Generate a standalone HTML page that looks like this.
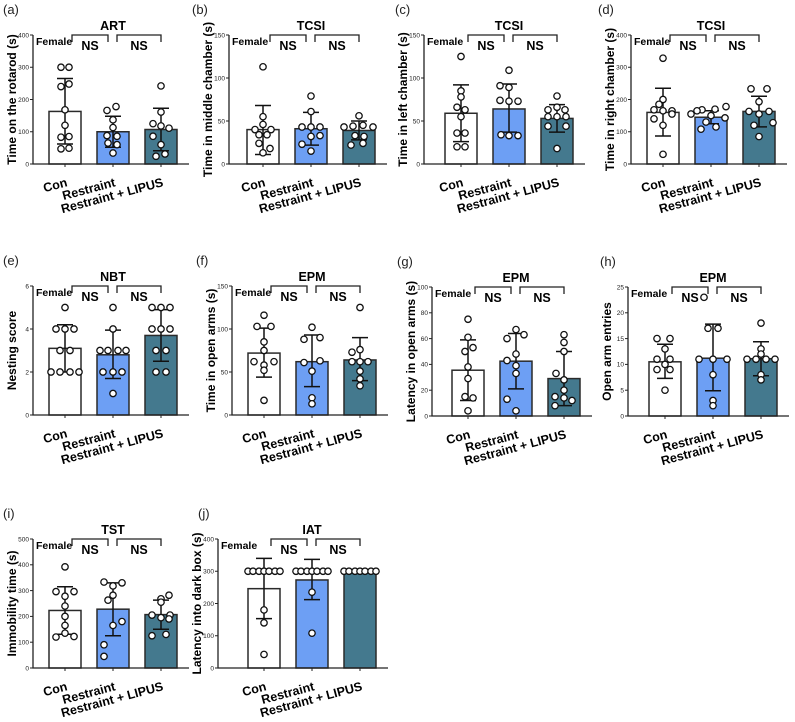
<!DOCTYPE html>
<html><head><meta charset="utf-8"><style>
html,body{margin:0;padding:0;background:#fff;}
svg{display:block;font-family:"Liberation Sans",Arial,sans-serif;}
</style></head><body>
<svg id="fig" width="795" height="722" viewBox="0 0 795 722" xmlns="http://www.w3.org/2000/svg"></svg>
<script>
const groups=["Con","Restraint","Restraint + LIPUS"];
const aMeans=[163,100,107],aUp=[265,148,173],aLo=[62,52,41];
const aPts=[[[300,-4],[300,4],[240,-4],[248,4],[168,0],[120,0],[83,-4],[85,4],[47,-4],[49,4]],[[166,-6],[178,3],[137,0],[113,0],[88,-6],[86,4],[65,-5],[60,4],[34,0]],[[242,0],[161,0],[125,-8],[118,0],[111,8],[86,-8],[60,0],[24,-5],[31,4]]];
const bMeans=[40,41,39],bUp=[68,60,50],bLo=[11,22,28];
const bPts=[[[113,0],[55,0],[46,0],[40,-8],[40,8],[34,-4],[34,4],[24,-4],[18,7],[13,0]],[[79,0],[61,0],[43,-9],[43,0],[43,9],[33,9],[32,0],[23,-9],[15,0]],[[56,0],[43,-15],[44,-6],[45,4],[43,14],[33,-4],[32,5],[22,-8],[24,4]]];
const cMeans=[59,64,53],cUp=[92,93,69],cLo=[26,37,37];
const cPts=[[[125,0],[85,0],[78,0],[66,-4],[63,4],[55,0],[36,-4],[36,4],[20,-4],[20,4]],[[109,0],[91,-9],[89,0],[74,-9],[73,0],[73,9],[34,-8],[33,0],[33,9]],[[79,0],[63,-9],[66,0],[63,8],[55,-9],[55,0],[55,9],[44,-9],[44,9],[18,0]]];
const dMeans=[160,145,163],dUp=[235,165,210],dLo=[87,125,115];
const dPts=[[[328,0],[200,0],[185,-4],[168,-9],[165,0],[165,9],[140,-9],[120,0],[30,0],[155,9]],[[178,15],[170,4],[168,-9],[165,-14],[155,-20],[150,0],[143,14],[130,-5],[108,-10],[115,5]],[[233,-8],[233,8],[193,0],[163,-10],[163,10],[155,0],[128,14],[120,-5],[85,0]]];
const eMeans=[3.1,2.8,3.7],eUp=[4.2,3.95,4.9],eLo=[2.0,1.7,2.5];
const ePts=[[[5,0],[4,-9],[4,0],[4,9],[3,-5],[3,5],[2,-14],[2,-5],[2,5],[2,14]],[[5,0],[4,0],[3,-13],[3,-5],[3,5],[3,13],[2,-10],[2,0],[2,9],[1,0]],[[5,-9],[5,0],[5,9],[4,-9],[4,0],[4,9],[3,-5],[3,5],[2,-5],[2,5]]];
const fMeans=[72,62,64],fUp=[101,93,90],fLo=[44,33,40];
const fPts=[[[116,0],[103,-7],[103,7],[85,0],[75,0],[62,-10],[62,10],[58,0],[52,0],[17,0]],[[102,0],[88,-8],[90,8],[61,-8],[63,8],[51,0],[20,0],[13,0]],[[125,0],[76,0],[73,-8],[62,-8],[62,0],[62,8],[51,0],[42,0],[34,0]]];
const gMeans=[35.5,42.5,29],gUp=[59,64,50],gLo=[12,21,8];
const gPts=[[[75,0],[61,0],[50,-3],[53,5],[38,0],[29,0],[15,-3],[14,5],[4,0]],[[67,0],[60,-9],[63,8],[48,0],[43,-9],[39,0],[33,0],[13,-9],[4,0]],[[63,0],[57,0],[50,0],[33,-8],[28,0],[20,0],[14,0],[15,-9],[8,-9],[12,8]]];
const hMeans=[10.5,11.2,11.1],hUp=[13.9,17.8,14.4],hLo=[7.3,4.9,7.8];
const hPts=[[[15,-8],[15,5],[13,0],[11,-8],[11,5],[10,0],[9,-8],[9,5],[5,0]],[[23,-9],[17,-5],[17,5],[11,-14],[11,0],[11,14],[8,0],[3,0],[2,0]],[[18,0],[13,0],[12,0],[11,-14],[11,-5],[11,5],[11,14],[8,0],[7,0]]];
const iMeans=[223,228,207],iUp=[315,330,263],iLo=[131,125,150];
const iPts=[[[392,0],[296,-9],[296,9],[278,0],[240,0],[200,0],[165,0],[135,0],[120,-9],[122,9]],[[333,-9],[330,9],[318,0],[282,0],[263,-5],[180,9],[165,0],[90,-9],[45,-9]],[[282,8],[268,0],[255,0],[205,-9],[205,9],[195,0],[190,8],[125,-9],[130,5]]];
const jMeans=[246,273,300],jUp=[340,337,300],jLo=[153,212,300];
const jPts=[[[300,-16],[300,-11],[300,-5],[300,0],[300,5],[300,11],[300,16],[180,0],[140,0],[42,0]],[[300,-16],[300,-11],[300,-5],[300,0],[300,5],[300,11],[300,16],[235,0],[108,0]],[[300,-16],[300,-11],[300,-5],[300,0],[300,5],[300,11],[300,16]]];
const panels=[
 {k:"a",lx:3,ax:33,b0:49,top:35,max:400,step:100,t:"ART",yt:"Time on the rotarod (s)",m:aMeans,u:aUp,l:aLo,p:aPts},
 {k:"b",lx:192,ax:229,b0:247,top:35,max:150,step:50,t:"TCSI",yt:"Time in middle chamber (s)",m:bMeans,u:bUp,l:bLo,p:bPts},
 {k:"c",lx:395,ax:424,b0:445,top:35,max:150,step:50,t:"TCSI",yt:"Time in left chamber (s)",m:cMeans,u:cUp,l:cLo,p:cPts},
 {k:"d",lx:598,ax:631,b0:647,top:35,max:400,step:100,t:"TCSI",yt:"Time in right chamber (s)",m:dMeans,u:dUp,l:dLo,p:dPts},
 {k:"e",lx:3,ax:33,b0:49,top:286,max:6,step:2,t:"NBT",yt:"Nesting score",m:eMeans,u:eUp,l:eLo,p:ePts},
 {k:"f",lx:196,ax:232,b0:248,top:286,max:150,step:50,t:"EPM",yt:"Time in open arms (s)",m:fMeans,u:fUp,l:fLo,p:fPts},
 {k:"g",lx:397,ax:432,b0:452,top:287,max:100,step:20,t:"EPM",yt:"Latency in open arms (s)",m:gMeans,u:gUp,l:gLo,p:gPts},
 {k:"h",lx:600,ax:628,b0:649,top:287,max:25,step:5,t:"EPM",yt:"Open arm entries",m:hMeans,u:hUp,l:hLo,p:hPts},
 {k:"i",lx:3,ax:33,b0:49,top:539,max:500,step:100,t:"TST",yt:"Immobility time (s)",m:iMeans,u:iUp,l:iLo,p:iPts},
 {k:"j",lx:198,ax:218,b0:248,top:539,max:400,step:100,t:"IAT",yt:"Latency into dark box (s)",m:jMeans,u:jUp,l:jLo,p:jPts}
];
const fills=["#ffffff","#6d9ff4","#44798e"];
const NS="http://www.w3.org/2000/svg";
const svg=document.getElementById("fig");
function mk(tag,attrs,parent,txt){const e=document.createElementNS(NS,tag);for(const k in attrs)e.setAttribute(k,attrs[k]);if(txt!==undefined)e.textContent=txt;(parent||svg).appendChild(e);return e;}
const H=129,BW=32,PITCH=48;
panels.forEach(P=>{
  const g=mk("g",{});
  
  
  const y=v=>P.top+H-(v/P.max)*H;
  const cx=i=>P.b0+i*PITCH+BW/2;
  const zero=P.top+H;
  const lt=mk("text",{x:P.lx,y:P.top-21,"font-size":13,fill:"#222"},g,"("+P.k+")");
  
  
  const tt=mk("text",{x:cx(1),y:P.top-5,"font-size":12.5,"font-weight":"bold","text-anchor":"middle"},g,P.t);
  
  
  const ytl=mk("text",{x:0,y:0,"font-size":12,"font-weight":"bold","text-anchor":"middle",transform:`translate(${P.ax-17},${P.top+H/2}) rotate(-90)`},g,P.yt);
  
  
  P.m.forEach((v,i)=>{
    const r=mk("rect",{x:P.b0+i*PITCH,y:y(v),width:BW,height:zero-y(v),fill:fills[i],stroke:"#2a2a2a","stroke-width":1.5},g);
    
    
  });
  P.m.forEach((v,i)=>{
    const c=cx(i);
    const eb=mk("path",{d:`M${c},${y(P.u[i])}V${y(P.l[i])}M${c-8},${y(P.u[i])}H${c+8}M${c-8},${y(P.l[i])}H${c+8}`,stroke:"#111","stroke-width":1.5,fill:"none"},g);
    
    
  });
  P.p.forEach((arr,i)=>{arr.forEach(pt=>{
    const d=mk("circle",{cx:cx(i)+pt[1],cy:y(pt[0]),r:3.2,fill:"#fff",stroke:"#111","stroke-width":1.3},g);
    
    
  });});
  const axEnd=P.b0+2*PITCH+BW+12;
  const ax=mk("path",{d:`M${P.ax},${P.top}V${zero}H${axEnd}`,stroke:"#222","stroke-width":1.3,fill:"none"},g);
  
  
  for(let v=0;v<=P.max+1e-9;v+=P.step){
    mk("line",{x1:P.ax-3,x2:P.ax,y1:y(v),y2:y(v),stroke:"#222","stroke-width":1},g);
    const tl=mk("text",{x:P.ax-4,y:y(v)+2.3,"font-size":6.5,"text-anchor":"end",fill:"#222"},g,String(v));
    
    
  }
  for(let i=0;i<3;i++){
    mk("line",{x1:cx(i),x2:cx(i),y1:zero,y2:zero+3,stroke:"#222","stroke-width":1},g);
    const xl=mk("text",{x:0,y:0,"font-size":12.5,"font-weight":"bold","text-anchor":"end",transform:`translate(${cx(i)+3},${zero+22}) rotate(-15)`},g,groups[i]);
    
    
  }
  const f=mk("text",{x:P.ax+3,y:P.top+10,"font-size":10.5,"font-weight":"bold"},g,"Female");
  
  
  const br=[[cx(0)+7,cx(1)-5],[cx(1)+4,cx(2)]];
  br.forEach(b=>{
    const bl=mk("path",{d:`M${b[0]},${P.top+7}V${P.top}H${b[1]}V${P.top+7}`,stroke:"#222","stroke-width":1.3,fill:"none"},g);
    
    
    const n=mk("text",{x:(b[0]+b[1])/2,y:P.top+15,"font-size":12.5,"font-weight":"bold","text-anchor":"middle"},g,"NS");
    
    
  });
});
</script>
</body></html>
